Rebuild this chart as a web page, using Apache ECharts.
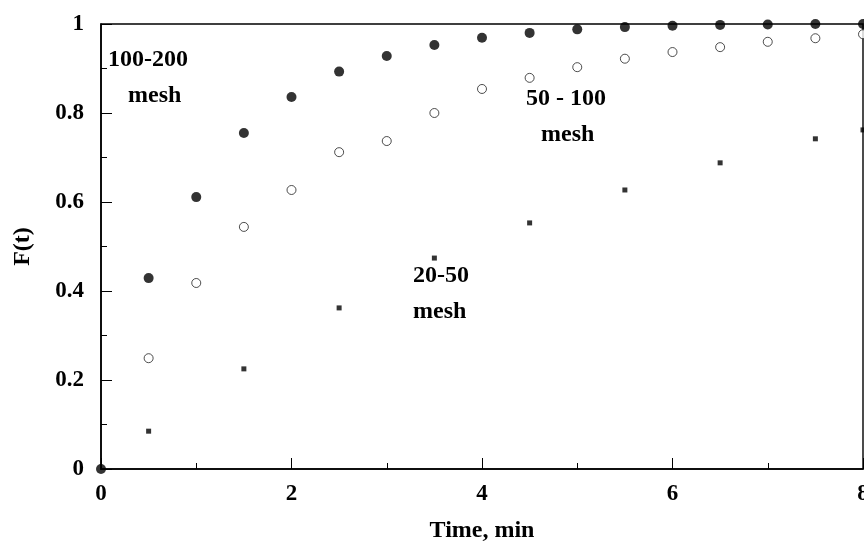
<!DOCTYPE html>
<html>
<head>
<meta charset="utf-8">
<script src="https://cdn.jsdelivr.net/npm/echarts@6/dist/echarts.min.js"></script>
<style>html,body{margin:0;padding:0;background:#fff}#c{width:864px;height:545px}</style>
</head>
<body>
<div id="c"></div>
<script>
// Data
const mesh100_200_t = [0, 0.5, 1.0, 1.5, 2.0, 2.5, 3.0, 3.5, 4.0, 4.5, 5.0, 5.5, 6.0, 6.5, 7.0, 7.5, 8.0];
const mesh100_200_F = [0, 0.429, 0.611, 0.755, 0.836, 0.893, 0.928, 0.953, 0.969, 0.980, 0.988, 0.993, 0.996, 0.998, 0.999, 1.0, 1.0];
const mesh50_100_t = [0.5, 1.0, 1.5, 2.0, 2.5, 3.0, 3.5, 4.0, 4.5, 5.0, 5.5, 6.0, 6.5, 7.0, 7.5, 8.0];
const mesh50_100_F = [0.249, 0.418, 0.544, 0.627, 0.712, 0.737, 0.800, 0.854, 0.879, 0.903, 0.922, 0.937, 0.948, 0.960, 0.968, 0.977];
const mesh20_50_t = [0.5, 1.5, 2.5, 3.5, 4.5, 5.5, 6.5, 7.5, 8.0];
const mesh20_50_F = [0.085, 0.225, 0.362, 0.474, 0.553, 0.627, 0.688, 0.742, 0.762];
const xTicks = [0, 2, 4, 6, 8];
const yTicks = [0, 0.2, 0.4, 0.6, 0.8, 1];
const seriesNames = ['100-200 mesh', '50 - 100 mesh', '20-50 mesh'];

const zip = (a, b) => a.map((v, i) => [v, b[i]]);
const FONT = '"Liberation Serif", "DejaVu Serif", serif';

const chart = echarts.init(document.getElementById('c'), null, {renderer: 'canvas'});
const axisCommon = {
  axisLine: {show: true, onZero: false, lineStyle: {color: '#000', width: 1.6}},
  axisTick: {show: true, inside: true, length: 11, lineStyle: {color: '#000', width: 1}},
  minorTick: {show: true, splitNumber: 2, length: 6, lineStyle: {color: '#000', width: 1}},
  splitLine: {show: false},
  axisLabel: {color: '#000', fontFamily: FONT, fontWeight: 'bold', fontSize: 23},
  nameTextStyle: {color: '#000', fontFamily: FONT, fontWeight: 'bold', fontSize: 24}
};
chart.setOption({
  animation: false,
  backgroundColor: '#fff',
  grid: {left: 101, top: 24, right: 1, bottom: 76, show: true, borderColor: '#000', borderWidth: 1.4,
         containLabel: false, outerBoundsMode: 'none'},
  xAxis: Object.assign({}, axisCommon, {
    type: 'value', min: 0, max: 8, interval: 2,
    name: 'Time, min', nameLocation: 'middle', nameGap: 50,
    axisLabel: Object.assign({}, axisCommon.axisLabel, {margin: 14, formatter: v => xTicks.includes(v) ? String(v) : ''})
  }),
  yAxis: Object.assign({}, axisCommon, {
    type: 'value', min: 0, max: 1, interval: 0.2,
    name: 'F(t)', nameLocation: 'middle', nameGap: 66, nameRotate: 90,
    axisLabel: Object.assign({}, axisCommon.axisLabel, {margin: 17, formatter: v => { const t = yTicks.find(y => Math.abs(y - v) < 1e-9); return t === undefined ? '' : String(t); }})
  }),
  series: [
    {name: seriesNames[0], type: 'scatter', data: zip(mesh100_200_t, mesh100_200_F), symbol: 'circle', symbolSize: 10,
     itemStyle: {color: '#000'}, clip: true},
    {name: seriesNames[1], type: 'scatter', data: zip(mesh50_100_t, mesh50_100_F), symbol: 'circle', symbolSize: 9,
     itemStyle: {color: '#fff', borderColor: '#222', borderWidth: 1}, clip: true},
    {name: seriesNames[2], type: 'scatter', data: zip(mesh20_50_t, mesh20_50_F), symbol: 'rect', symbolSize: 5,
     itemStyle: {color: '#000'}, clip: true}
  ],
  graphic: [
    {type: 'text', left: 108, top: 48, style: {text: '100-200', font: 'bold 24px ' + FONT, fill: '#000'}},
    {type: 'text', left: 128, top: 84, style: {text: 'mesh', font: 'bold 24px ' + FONT, fill: '#000'}},
    {type: 'text', left: 526, top: 87, style: {text: '50 - 100', font: 'bold 24px ' + FONT, fill: '#000'}},
    {type: 'text', left: 541, top: 123, style: {text: 'mesh', font: 'bold 24px ' + FONT, fill: '#000'}},
    {type: 'text', left: 413, top: 264, style: {text: '20-50', font: 'bold 24px ' + FONT, fill: '#000'}},
    {type: 'text', left: 413, top: 300, style: {text: 'mesh', font: 'bold 24px ' + FONT, fill: '#000'}}
  ]
});
</script>
</body>
</html>
